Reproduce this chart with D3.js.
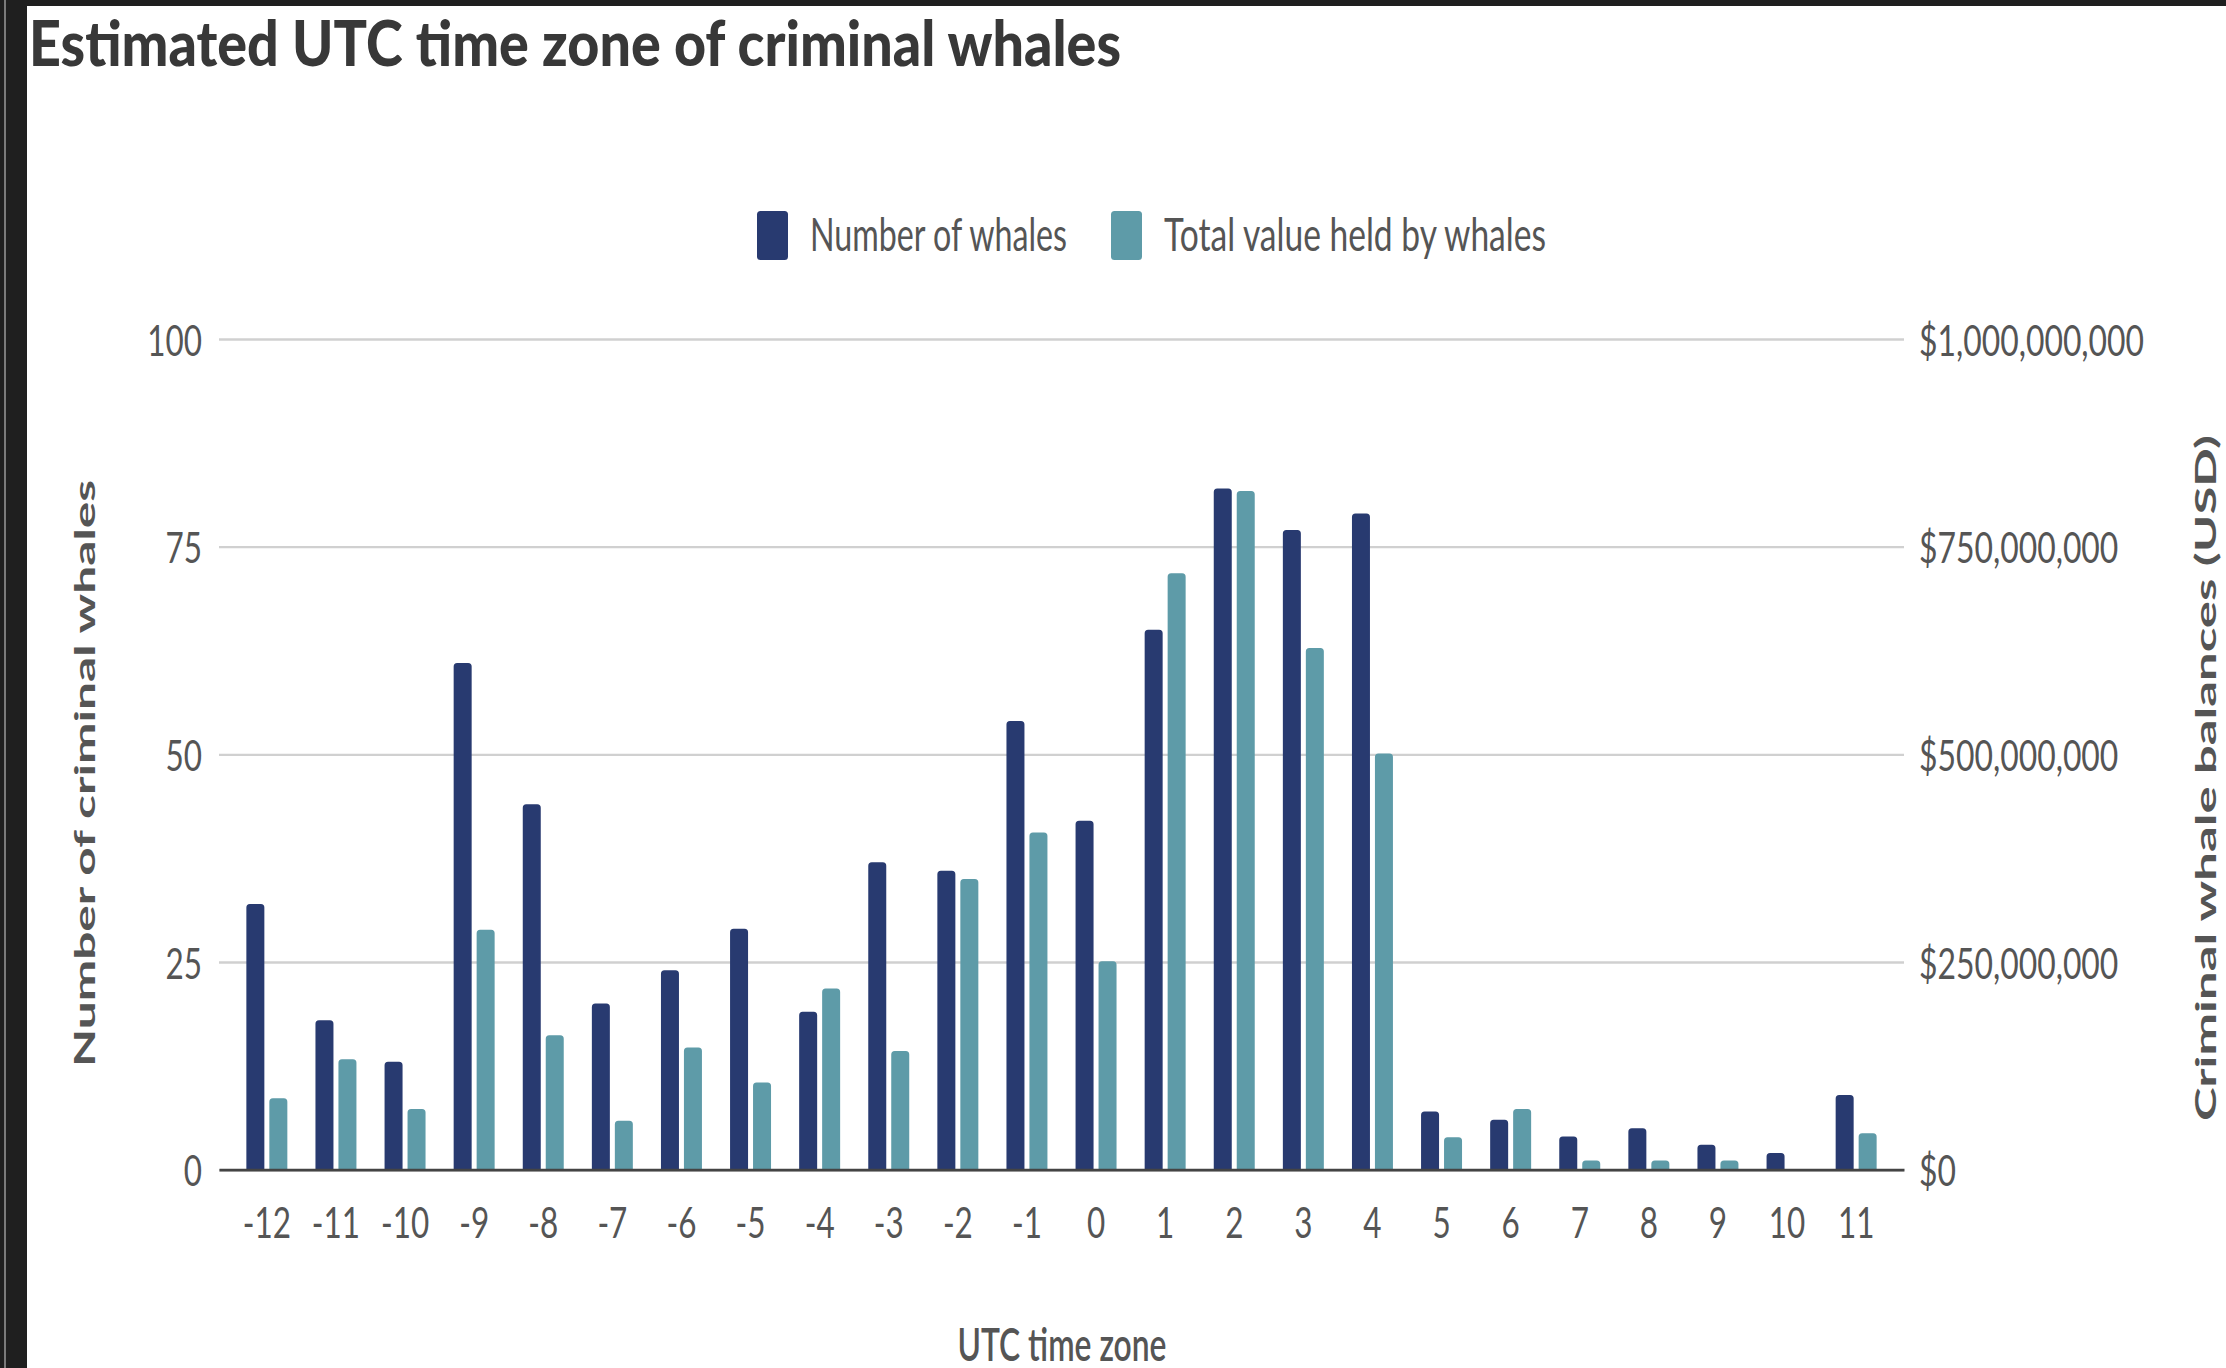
<!DOCTYPE html>
<html>
<head>
<meta charset="utf-8">
<script src="https://cdn.jsdelivr.net/npm/d3@7"></script>
<style>
body { margin: 0; background: #fff; }
svg { display: block; }
text { font-family: Lato, "Open Sans", sans-serif; }
</style>
</head>
<body>
<div id="root"></div>
<script>
var width = 2226;
var height = 1368;

// chart data
var zones = ["-12","-11","-10","-9","-8","-7","-6","-5","-4","-3","-2","-1",
             "0","1","2","3","4","5","6","7","8","9","10","11"];
var whaleCounts = [32, 18, 13, 61, 44, 20, 24, 29, 19, 37, 36, 54,
                   42, 65, 82, 77, 79, 7, 6, 4, 5, 3, 2, 9];
var whaleValues = [86e6, 133e6, 73e6, 289e6, 162e6, 59e6, 147e6, 105e6, 218e6, 143e6, 350e6, 406e6,
                   251e6, 718e6, 817e6, 628e6, 501e6, 39e6, 73e6, 11e6, 11e6, 11e6, 0, 44e6];
var countTicks = [0, 25, 50, 75, 100];
var valueTicks = [0, 250e6, 500e6, 750e6, 1e9];
var seriesNames = ["Number of whales", "Total value held by whales"];
var seriesColors = ["#283a70", "#5e9ba8"];

var svg = d3.select("#root")
  .append("svg")
  .attr("width", width)
  .attr("height", height);

// dark screenshot frame on the left / top
svg.append("rect").attr("width", width).attr("height", height).attr("fill", "#1f1f1f");
svg.append("line")
  .attr("x1", 5).attr("x2", 5).attr("y1", 0).attr("y2", height)
  .attr("stroke", "#9a9a9a").attr("stroke-width", 1.5);
svg.append("rect")
  .attr("x", 27).attr("y", 6)
  .attr("width", width - 27).attr("height", height - 6)
  .attr("fill", "#fff");

// text in the picture is squeezed sideways, so shrink it with textLength
function squash(sel, k) {
  sel.each(function() {
    var w = this.getComputedTextLength();
    d3.select(this).attr("textLength", w * k).attr("lengthAdjust", "spacingAndGlyphs");
  });
}

// plot box (note: "top" is taken by window.top)
var plotLeft = 219, plotRight = 1904, plotTop = 339, plotBottom = 1169.7;

var x0 = d3.scaleBand()
  .domain(zones)
  .range([plotLeft, plotRight])
  .paddingInner(0.407)
  .paddingOuter(0.396);

var x1 = d3.scaleBand()
  .domain([0, 1])
  .range([0, x0.bandwidth()])
  .paddingInner(0.217);

var yCount = d3.scaleLinear().domain([0, 100]).range([plotBottom, plotTop]);
var yValue = d3.scaleLinear().domain([0, 1e9]).range([plotBottom, plotTop]);

// gridlines
var grid = svg.append("g")
  .attr("transform", "translate(" + plotLeft + ",0)")
  .call(d3.axisLeft(yCount).tickValues(countTicks).tickSize(-(plotRight - plotLeft)).tickFormat(""));
grid.select(".domain").remove();
grid.selectAll("line").attr("stroke", "#d0d0d0").attr("stroke-width", 2.4);

// left axis labels
var leftAxis = svg.append("g")
  .attr("transform", "translate(" + plotLeft + ",0)")
  .call(d3.axisLeft(yCount).tickValues(countTicks).tickSize(0).tickPadding(17));
leftAxis.select(".domain").remove();
leftAxis.selectAll("text")
  .attr("font-size", 42.5)
  .attr("font-family", "Lato, sans-serif")
  .attr("fill", "#555")
  .attr("dy", "0.38em")
  .call(squash, 0.74);

// right axis labels
var rightAxis = svg.append("g")
  .attr("transform", "translate(" + plotRight + ",0)")
  .call(d3.axisRight(yValue).tickValues(valueTicks).tickSize(0).tickPadding(15)
    .tickFormat(function(d) { return "$" + d3.format(",")(d); }));
rightAxis.select(".domain").remove();
rightAxis.selectAll("text")
  .attr("font-size", 42.5)
  .attr("font-family", "Lato, sans-serif")
  .attr("fill", "#555")
  .attr("dy", "0.38em")
  .call(squash, 0.75);

// bars
function topRounded(x, y, w, h, r) {
  r = Math.min(r, h, w / 2);
  return "M" + x + "," + (y + h) +
    "V" + (y + r) +
    "A" + r + "," + r + " 0 0 1 " + (x + r) + "," + y +
    "H" + (x + w - r) +
    "A" + r + "," + r + " 0 0 1 " + (x + w) + "," + (y + r) +
    "V" + (y + h) + "Z";
}

var rows = zones.map(function(z, i) {
  return { zone: z, values: [whaleCounts[i], whaleValues[i]] };
});

var groups = svg.append("g")
  .selectAll("g")
  .data(rows)
  .enter()
  .append("g")
  .attr("transform", function(d) { return "translate(" + x0(d.zone) + ",0)"; });

groups.selectAll("path")
  .data(function(d) {
    return d.values
      .map(function(v, s) { return { s: s, v: v }; })
      .filter(function(d) { return d.v > 0; });
  })
  .enter()
  .append("path")
  .attr("fill", function(d) { return seriesColors[d.s]; })
  .attr("d", function(d) {
    var yy = d.s === 0 ? yCount(d.v) : yValue(d.v);
    return topRounded(x1(d.s), yy, x1.bandwidth(), plotBottom - yy, 3.5);
  });

// x axis with baseline
var xAxis = svg.append("g")
  .attr("transform", "translate(0," + plotBottom + ")")
  .call(d3.axisBottom(x0).tickSize(0).tickSizeOuter(0).tickPadding(38));
xAxis.select(".domain").attr("stroke", "#444").attr("stroke-width", 2.8);
xAxis.selectAll("text")
  .attr("font-size", 42.5)
  .attr("font-family", "Lato, sans-serif")
  .attr("fill", "#555")
  .call(squash, 0.74);

// title
svg.append("text")
  .attr("x", 29)
  .attr("y", 66)
  .attr("font-size", 63)
  .attr("font-weight", 900)
  .attr("fill", "#383838")
  .attr("textLength", 1092)
  .attr("lengthAdjust", "spacingAndGlyphs")
  .text("Estimated UTC time zone of criminal whales");

// legend
var legendX = [757, 1111];
var legendTextW = [257, 382];
var legend = svg.append("g")
  .selectAll("g")
  .data(seriesNames)
  .enter()
  .append("g")
  .attr("transform", function(d, i) { return "translate(" + legendX[i] + ",211)"; });

legend.append("rect")
  .attr("width", 31)
  .attr("height", 49)
  .attr("rx", 3.5)
  .attr("fill", function(d, i) { return seriesColors[i]; });

legend.append("text")
  .attr("x", 53)
  .attr("y", 40)
  .attr("font-size", 46.6)
  .attr("fill", "#555")
  .attr("textLength", function(d, i) { return legendTextW[i]; })
  .attr("lengthAdjust", "spacingAndGlyphs")
  .text(function(d) { return d; });

// axis titles
svg.append("text")
  .attr("x", 1062)
  .attr("y", 1361)
  .attr("text-anchor", "middle")
  .attr("font-size", 46)
  .attr("font-weight", 600)
  .attr("fill", "#555")
  .attr("textLength", 209)
  .attr("lengthAdjust", "spacingAndGlyphs")
  .text("UTC time zone");

svg.append("text")
  .attr("transform", "translate(95,773.5) rotate(-90)")
  .attr("text-anchor", "middle")
  .attr("font-family", "'Open Sans', sans-serif")
  .attr("font-size", 29)
  .attr("font-weight", 700)
  .attr("fill", "#555")
  .attr("textLength", 587)
  .attr("lengthAdjust", "spacingAndGlyphs")
  .text("Number of criminal whales");

svg.append("text")
  .attr("transform", "translate(2216,778) rotate(-90)")
  .attr("text-anchor", "middle")
  .attr("font-family", "'Open Sans', sans-serif")
  .attr("font-size", 29)
  .attr("font-weight", 700)
  .attr("fill", "#555")
  .attr("textLength", 686)
  .attr("lengthAdjust", "spacingAndGlyphs")
  .text("Criminal whale balances (USD)");
</script>
</body>
</html>
